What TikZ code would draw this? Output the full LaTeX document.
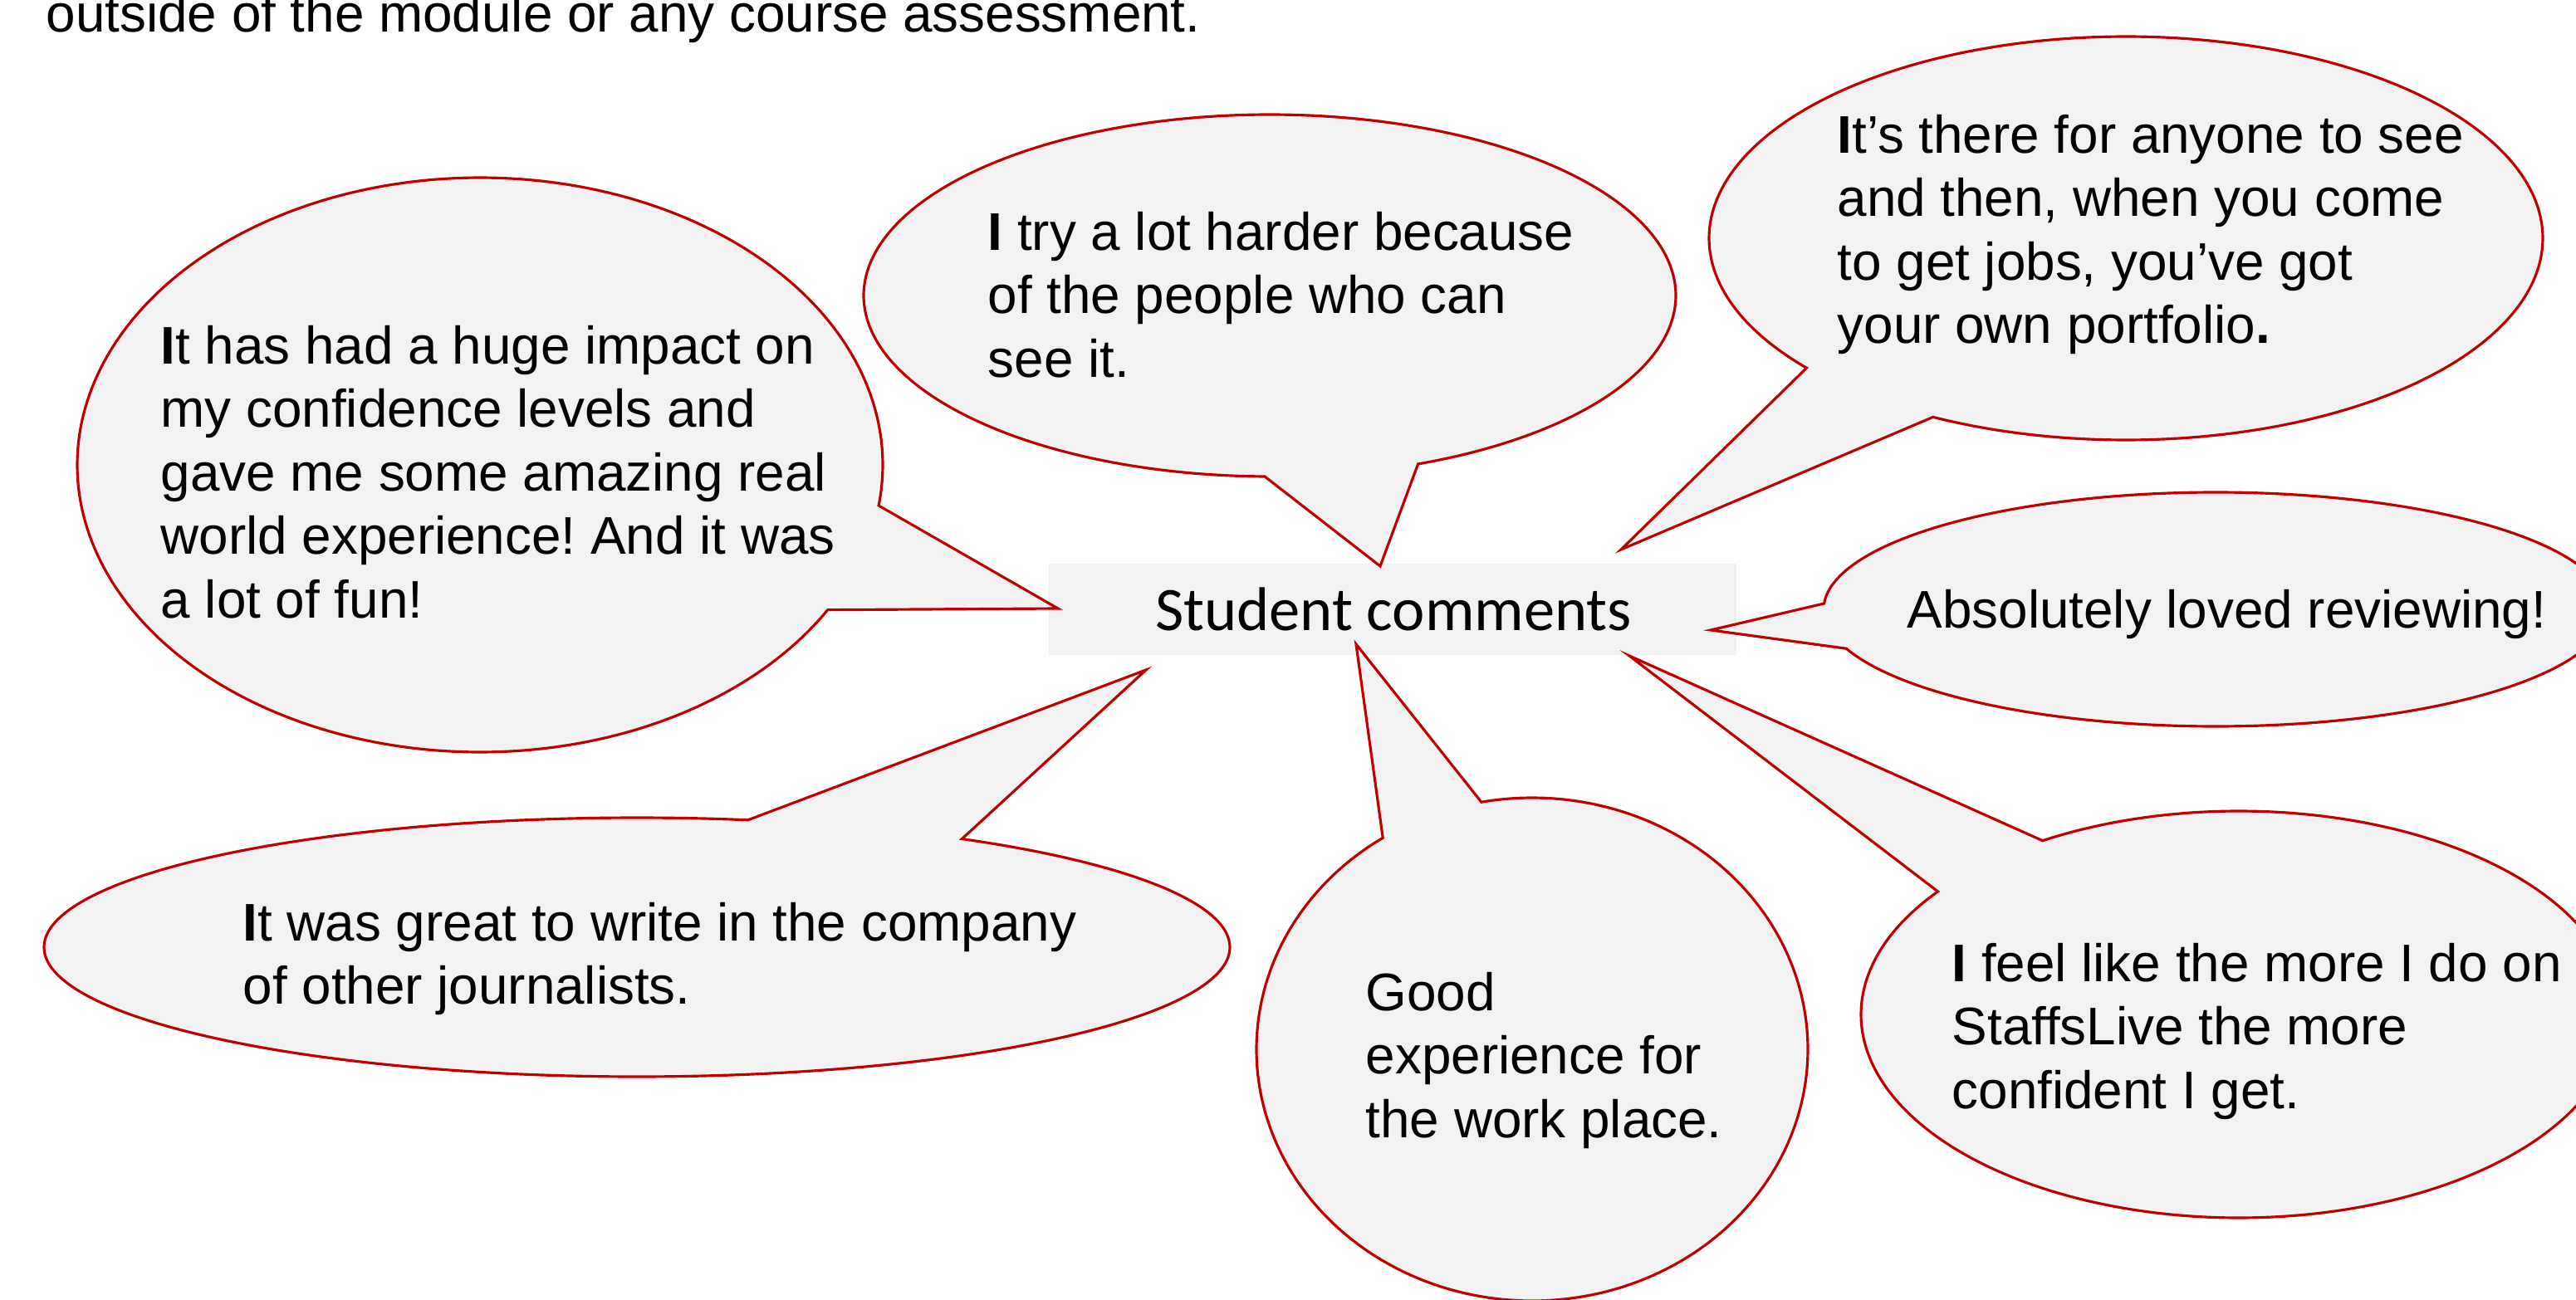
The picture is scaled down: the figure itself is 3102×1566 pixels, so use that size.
\documentclass[tikz,border=0pt]{standalone}
\usepackage{fontspec}
\setmainfont{Liberation Sans}
\newfontfamily\calibrifont{Carlito}
\definecolor{bubred}{HTML}{C00000}
\definecolor{bubfill}{HTML}{F2F2F2}
\newcommand\bI{{\bfseries I}}
\frenchspacing
% #1 cx, #2 cy, #3 rx, #4 ry, #5 #6 first tail base, #7 #8 second tail base, #9 tip coordinate name
\newcommand\bubble[9]{%
  \pgfmathsetmacro\tA{atan2((#6-#2)/#4,(#5-#1)/#3)}%
  \pgfmathsetmacro\tB{atan2((#8-#2)/#4,(#7-#1)/#3)}%
  \pgfmathsetmacro\dd{mod(\tB-\tA+720,360)}%
  \pgfmathsetmacro\st{\dd>180 ? \tA : \tB}%
  \pgfmathsetmacro\sw{\dd>180 ? \dd : 360-\dd}%
  \pgfmathsetmacro\en{\st+\sw}%
  \filldraw[bubble] plot[domain=\st:\en, samples=361, variable=\ang]
    ({#1+#3*cos(\ang)},{#2+#4*sin(\ang)}) -- (#9) -- cycle;
}
\tikzset{
  bubble/.style={fill=bubfill, draw=bubred, line width=0.9pt, line join=miter},
  txt/.style={inner sep=0pt, anchor=base west, font=\fontsize{18.15}{21.8}\selectfont\frenchspacing},
  titlebox/.style={fill=bubfill, draw=none, inner sep=0pt, minimum width=82.8mm, minimum height=11mm},
}
\begin{document}
\begin{tikzpicture}[x=0.1mm, y=-0.1mm]
\useasboundingbox (0,0) rectangle (3102,1566);
\clip (0,0) rectangle (3102,1566);

\node[txt] (intro) at (55,38) {outside of the module or any course assessment.};

\node[titlebox] (box) at (1677,734) {};

\coordinate (tip1) at (1274,733);
\coordinate (tip2) at (1662,682);
\coordinate (tip3) at (1952,662);
\coordinate (tip4) at (2060,759);
\coordinate (tip5) at (1380,807);
\coordinate (tip6) at (1633,776);
\coordinate (tip7) at (1962,790);

\bubble{578}{560}{485}{346}{1058}{609}{995}{734}{tip1}
\bubble{1529}{356}{489}{218}{1523}{572}{1705}{556}{tip2}
\bubble{2560}{287}{502}{243}{2176}{443}{2326}{504}{tip3}
\bubble{2668}{734}{472}{141}{2200}{727}{2226}{781}{tip4}
\bubble{767}{1141}{714}{156}{898}{991}{1151}{1013}{tip5}
\bubble{1845}{1264}{332}{303}{1665}{1009}{1784}{967}{tip6}
\bubble{2696}{1222}{455}{245}{2324}{1070}{2451}{1005}{tip7}

\node[inner sep=0pt, anchor=base, font=\calibrifont\fontsize{21.2}{25}\selectfont] (title) at (1678,759) {Student comments};

\node[txt] (c1) at (193,438) {\begin{tabular}[t]{@{}l@{}}\bI t has had a huge impact on\\ my confidence levels and\\ gave me some amazing real\\ world experience! And it was\\ a lot of fun!\end{tabular}};
\node[txt] (c2) at (1189,301) {\begin{tabular}[t]{@{}l@{}}\bI{} try a lot harder because\\ of the people who can\\ see it.\end{tabular}};
\node[txt] (c3) at (2212,184) {\begin{tabular}[t]{@{}l@{}}\bI t’s there for anyone to see\\ and then, when you come\\ to get jobs, you’ve got\\ your own portfolio{\bfseries .}\end{tabular}};
\node[txt] (c4) at (2296,756) {Absolutely loved reviewing!};
\node[txt] (c5) at (292,1133) {\begin{tabular}[t]{@{}l@{}}\bI t was great to write in the company\\ of other journalists.\end{tabular}};
\node[txt] (c6) at (1644,1217) {\begin{tabular}[t]{@{}l@{}}Good\\ experience for\\ the work place.\end{tabular}};
\node[txt] (c7) at (2350,1182) {\begin{tabular}[t]{@{}l@{}}\bI{} feel like the more I do on\\ StaffsLive the more\\ confident I get.\end{tabular}};
\end{tikzpicture}
\end{document}
